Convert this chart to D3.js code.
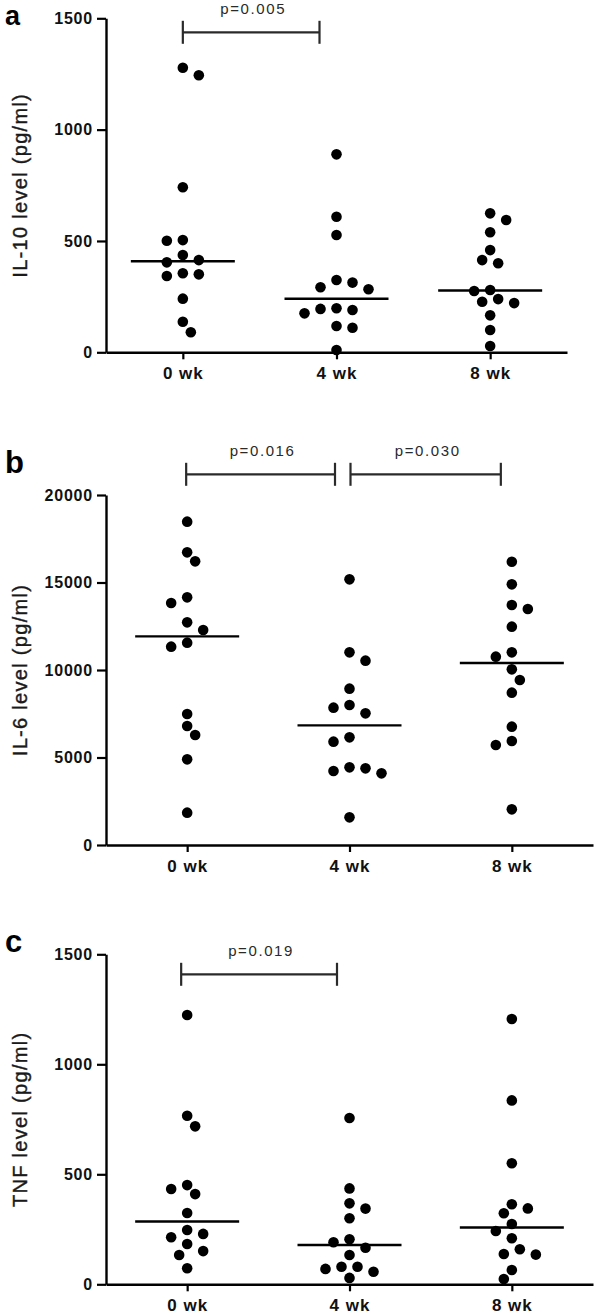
<!DOCTYPE html>
<html>
<head>
<meta charset="utf-8">
<script src="https://cdn.jsdelivr.net/npm/d3@7"></script>
<style>
  html, body { margin: 0; padding: 0; background: #fff; }
  svg { display: block; }
  text { font-family: "Liberation Sans", Arial, Helvetica, sans-serif; }
</style>
</head>
<body>
<svg id="chart" width="596" height="1315"></svg>
<script>
// ---------- data ----------
const categories = ["0 wk", "4 wk", "8 wk"];

// Panel a: IL-10 (pg/ml)
const il10_0wk = [1278, 1244, 741, 504, 501, 437, 414, 404, 355, 350, 343, 241, 137, 90];
const il10_4wk = [889, 609, 527, 325, 313, 292, 283, 198, 195, 190, 175, 118, 110, 10];
const il10_8wk = [624, 594, 539, 459, 414, 400, 280, 275, 239, 227, 221, 166, 100, 28];
const il10Ticks = [0, 500, 1000, 1500];

// Panel b: IL-6 (pg/ml)
const il6_0wk = [18476, 16724, 16210, 14152, 13829, 12724, 12286, 11562, 11333, 7486, 6800, 6286, 4895, 1848];
const il6_4wk = [15181, 11010, 10533, 8933, 8000, 7848, 7524, 6152, 5905, 4438, 4381, 4229, 4095, 1581];
const il6_8wk = [16190, 14895, 13714, 13486, 12476, 11010, 10762, 10038, 9429, 8705, 6762, 5943, 5714, 2038];
const il6Ticks = [0, 5000, 10000, 15000, 20000];

// Panel c: TNF (pg/ml)
const tnf_0wk = [1224, 766, 718, 451, 433, 410, 324, 247, 229, 214, 183, 151, 133, 73];
const tnf_4wk = [756, 436, 368, 344, 300, 205, 191, 166, 133, 80, 80, 70, 57, 29];
const tnf_8wk = [1206, 836, 550, 364, 345, 323, 274, 242, 209, 159, 138, 135, 65, 24];
const tnfTicks = [0, 500, 1000, 1500];

// significance brackets
const il10Brackets = [{ from: "0 wk", to: "4 wk", label: "p=0.005" }];
const il6Brackets = [
  { from: "0 wk", to: "4 wk", label: "p=0.016" },
  { from: "4 wk", to: "8 wk", label: "p=0.030" }
];
const tnfBrackets = [{ from: "0 wk", to: "4 wk", label: "p=0.019" }];

// ---------- panel definitions (data references + layout) ----------
const panels = [
  {
    letter: "a", title: "IL-10 level (pg/ml)",
    series: [il10_0wk, il10_4wk, il10_8wk], ticks: il10Ticks, brackets: il10Brackets,
    layout: { top: 18.3, bottom: 352.3, left: 106, right: 567, letterY: 25, letterSize: 27,
              bracketY: 32.3, bracketDx: [[0, -17]] }
  },
  {
    letter: "b", title: "IL-6 level (pg/ml)",
    series: [il6_0wk, il6_4wk, il6_8wk], ticks: il6Ticks, brackets: il6Brackets,
    layout: { top: 495, bottom: 845, left: 106, right: 593, letterY: 473, letterSize: 31,
              bracketY: 474.3, bracketDx: [[-1, -14.5], [1, -11]] }
  },
  {
    letter: "c", title: "TNF level (pg/ml)",
    series: [tnf_0wk, tnf_4wk, tnf_8wk], ticks: tnfTicks, brackets: tnfBrackets,
    layout: { top: 954.3, bottom: 1284.3, left: 106, right: 593, letterY: 952, letterSize: 31,
              bracketY: 974.3, bracketDx: [[-6, -12.5]] }
  }
];

// ---------- drawing ----------
const svg = d3.select("#chart");
const R = 5.3;           // dot radius
const STEP = 8;          // swarm step
const MIN_D = 2 * R + 1.2;
const MEDIAN_HALF = 52;

function swarm(values, y) {
  const pts = values.map(v => ({ v, y: y(v), dx: 0 })).sort((a, b) => a.y - b.y);
  const placed = [];
  let bal = 0;
  pts.forEach(p => {
    outer:
    for (let k = 0; k < 40; k++) {
      const cands = k === 0 ? [0] : (bal > 0 ? [-k * STEP, k * STEP] : [k * STEP, -k * STEP]);
      for (const c of cands) {
        const ok = placed.every(q => (q.dx - c) ** 2 + (q.y - p.y) ** 2 >= MIN_D * MIN_D);
        if (ok) { p.dx = c; placed.push(p); bal += c; break outer; }
      }
    }
  });
  return pts;
}

panels.forEach(pan => {
  const L = pan.layout;
  const g = svg.append("g");
  const yMax = d3.max(pan.ticks);

  const x = d3.scalePoint().domain(categories).range([L.left, L.right]).padding(0.5);
  const y = d3.scaleLinear().domain([0, yMax]).range([L.bottom, L.top]);

  // y axis
  const yAxis = g.append("g")
    .attr("transform", `translate(${L.left},0)`)
    .call(d3.axisLeft(y).tickValues(pan.ticks).tickFormat(d3.format("d"))
      .tickSize(9).tickSizeOuter(0).tickPadding(4));
  yAxis.select(".domain").attr("stroke", "#000").attr("stroke-width", 2.4);
  yAxis.selectAll(".tick line").attr("stroke", "#000").attr("stroke-width", 2.2);
  yAxis.selectAll(".tick text")
    .attr("fill", "#111").style("font-size", "16px").style("font-weight", "bold")
    .style("letter-spacing", "0.8px");

  // x axis
  const xAxis = g.append("g")
    .attr("transform", `translate(0,${L.bottom})`)
    .call(d3.axisBottom(x).tickSize(7).tickSizeOuter(0).tickPadding(8));
  xAxis.select(".domain").attr("stroke", "#000").attr("stroke-width", 2.4);
  xAxis.selectAll(".tick line").attr("stroke", "#000").attr("stroke-width", 2.2);
  xAxis.selectAll(".tick text")
    .attr("fill", "#111").style("font-size", "17px").style("font-weight", "bold")
    .style("letter-spacing", "1px");

  // y title
  g.append("text")
    .attr("transform", `translate(27,${(L.top + L.bottom) / 2}) rotate(-90)`)
    .attr("text-anchor", "middle")
    .attr("fill", "#1a1a1a")
    .attr("stroke", "#1a1a1a")
    .attr("stroke-width", 0.4)
    .style("font-size", "20px")
    .style("letter-spacing", "1.3px")
    .text(pan.title);

  // panel letter
  g.append("text")
    .attr("x", 5).attr("y", L.letterY)
    .attr("fill", "#000")
    .style("font-size", L.letterSize + "px").style("font-weight", "bold")
    .text(pan.letter);

  // points + medians
  categories.forEach((cat, i) => {
    const vals = pan.series[i];
    const pts = swarm(vals, y);
    g.append("g").selectAll("circle").data(pts).join("circle")
      .attr("cx", d => x(cat) + d.dx)
      .attr("cy", d => d.y)
      .attr("r", R)
      .attr("fill", "#000");
    const med = d3.median(vals);
    g.append("line")
      .attr("x1", x(cat) - MEDIAN_HALF).attr("x2", x(cat) + MEDIAN_HALF)
      .attr("y1", y(med)).attr("y2", y(med))
      .attr("stroke", "#000").attr("stroke-width", 2.4);
  });

  // brackets
  pan.brackets.forEach((b, j) => {
    const dx = L.bracketDx[j];
    const x1 = x(b.from) + dx[0];
    const x2 = x(b.to) + dx[1];
    const by = L.bracketY;
    const bg = g.append("g").attr("stroke", "#2a2a2a").attr("stroke-width", 2.2);
    bg.append("line").attr("x1", x1).attr("x2", x2).attr("y1", by).attr("y2", by);
    bg.append("line").attr("x1", x1).attr("x2", x1).attr("y1", by - 11.5).attr("y2", by + 11.5);
    bg.append("line").attr("x1", x2).attr("x2", x2).attr("y1", by - 11.5).attr("y2", by + 11.5);
    g.append("text")
      .attr("x", (x1 + x2) / 2 + 2).attr("y", by - 18.5)
      .attr("text-anchor", "middle")
      .attr("fill", "#2a2a2a")
      .style("font-size", "15px")
      .style("letter-spacing", "1.6px")
      .text(b.label);
  });
});
</script>
</body>
</html>
